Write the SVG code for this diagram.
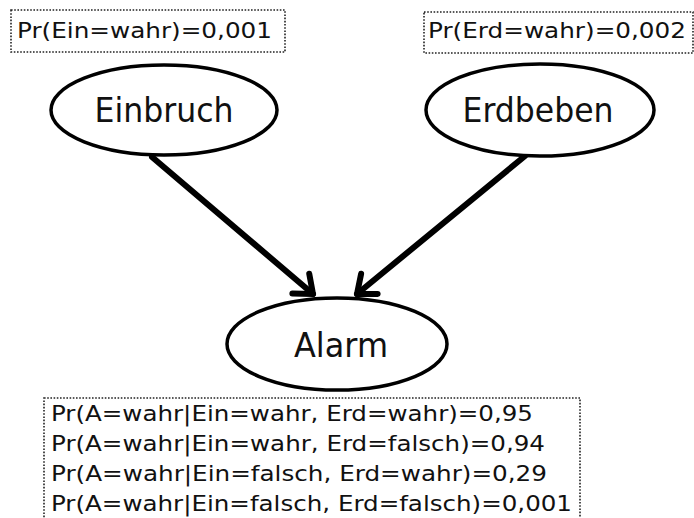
<svg xmlns="http://www.w3.org/2000/svg" width="694" height="518" viewBox="0 0 694 518">
<style>
.box{fill:none;stroke:#222;stroke-width:1.6;stroke-dasharray:1.6 1.6}
.node{fill:#fff;stroke:#000;stroke-width:3.5}
.lbl{font-family:"DejaVu Sans","Verdana",sans-serif;font-size:34px;fill:#111;text-anchor:middle}
.prob{font-family:"DejaVu Sans","Verdana",sans-serif;font-size:22px;fill:#111}
.edge{fill:none;stroke:#000;stroke-width:6;stroke-linecap:round}
</style>
<defs>
<marker id="arr" markerUnits="userSpaceOnUse" orient="auto" refX="0" refY="0" markerWidth="30" markerHeight="30" viewBox="-22 -15 27 30" overflow="visible">
<path d="M-16,-13 L0,0 L-16,13" fill="none" stroke="#000" stroke-width="6" stroke-linecap="round" stroke-linejoin="round"/>
</marker>
</defs>
<g id="prob-ein">
<rect class="box" x="11" y="10" width="274" height="42"/>
<text class="prob" x="17" y="38" textLength="255" lengthAdjust="spacingAndGlyphs">Pr(Ein=wahr)=0,001</text>
</g>
<g id="prob-erd">
<rect class="box" x="424" y="12" width="269" height="41"/>
<text class="prob" x="428" y="38" textLength="258" lengthAdjust="spacingAndGlyphs">Pr(Erd=wahr)=0,002</text>
</g>
<g id="connectors">
<line class="edge" x1="152" y1="157" x2="313" y2="294" marker-end="url(#arr)"/>
<line class="edge" x1="525" y1="156" x2="357" y2="294" marker-end="url(#arr)"/>
</g>
<g id="einbruch">
<ellipse class="node" cx="164" cy="110" rx="113" ry="45"/>
<text class="lbl" x="164" y="122" textLength="139" lengthAdjust="spacingAndGlyphs">Einbruch</text>
</g>
<g id="erdbeben">
<ellipse class="node" cx="540" cy="110" rx="114" ry="46"/>
<text class="lbl" x="538" y="122" textLength="151" lengthAdjust="spacingAndGlyphs">Erdbeben</text>
</g>
<g id="alarm">
<ellipse class="node" cx="337" cy="344" rx="110" ry="46"/>
<text class="lbl" x="341" y="357" textLength="94" lengthAdjust="spacingAndGlyphs">Alarm</text>
</g>
<g id="prob-alarm">
<rect class="box" x="44" y="398" width="536" height="130"/>
<text class="prob" x="51" y="421" textLength="482" lengthAdjust="spacingAndGlyphs">Pr(A=wahr|Ein=wahr, Erd=wahr)=0,95</text>
<text class="prob" x="51" y="451" textLength="494" lengthAdjust="spacingAndGlyphs">Pr(A=wahr|Ein=wahr, Erd=falsch)=0,94</text>
<text class="prob" x="51" y="481" textLength="496" lengthAdjust="spacingAndGlyphs">Pr(A=wahr|Ein=falsch, Erd=wahr)=0,29</text>
<text class="prob" x="51" y="511" textLength="521" lengthAdjust="spacingAndGlyphs">Pr(A=wahr|Ein=falsch, Erd=falsch)=0,001</text>
</g>
</svg>
